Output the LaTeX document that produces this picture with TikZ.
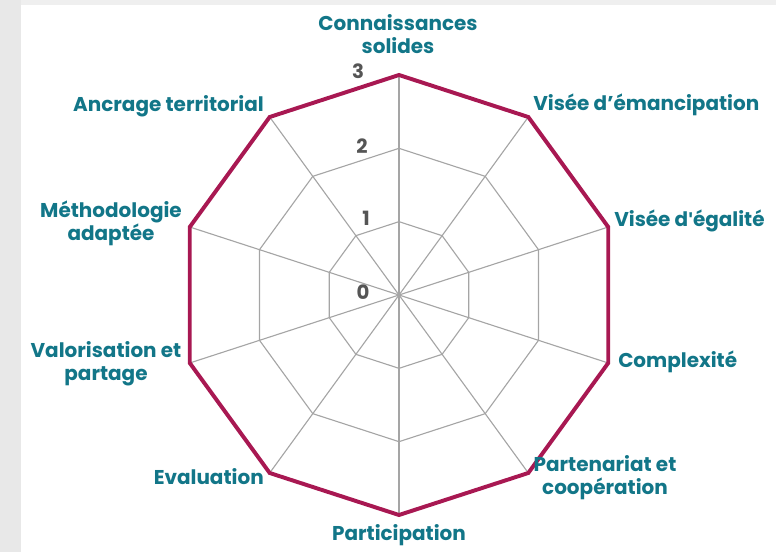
\documentclass[tikz,border=0pt]{standalone}
\usepackage{fontspec}
\setmainfont{Poppins}
\definecolor{labcol}{RGB}{18,118,136}
\definecolor{numcol}{RGB}{85,85,85}
\definecolor{polycol}{RGB}{168,24,82}
\definecolor{gridcol}{RGB}{165,165,165}
\definecolor{bordcol}{RGB}{232,232,232}
\begin{document}
\begin{tikzpicture}[x=0.025cm,y=0.025cm,
	lab/.style={font=\bfseries\fontsize{14.2}{16.5}\selectfont, text=labcol, align=center, inner sep=0pt},
	num/.style={font=\bfseries\fontsize{14}{16}\selectfont, text=numcol, inner sep=0pt},
	grille/.style={gridcol, line width=0.8pt},
	poly/.style={polycol, line width=2.8pt}]
	% Cadre
	\useasboundingbox (-399,-257) rectangle (377,295);
	\fill[bordcol] (-399,-257) rectangle (-378,295);
	\fill[bordcol!70] (-378,290) rectangle (377,295);
	
	% Grille du radar
	\foreach \r in {73.33,146.67}{\draw[grille] (90:\r) \foreach \a in {54,18,...,-234}{ -- (\a:\r)} -- cycle;}
	\foreach \a in {90,54,...,-234}{\draw[grille] (0,0) -- (\a:220);}
	
	% Polygone des valeurs
	\draw[poly] (90:220) \foreach \a in {54,18,...,-234}{ -- (\a:220)} -- cycle;
	
	% Graduations
	\node[num] (n0) at (-36,3) {0};
	\node[num] (n1) at (-33,77) {1};
	\node[num] (n2) at (-37,149) {2};
	\node[num] (n3) at (-41,224) {3};
	
	% Axes
	\node[lab] (conn) at (-1,261) {Connaissances\\solides};
	\node[lab, anchor=west] (eman) at (134,190) {Visée d’émancipation};
	\node[lab, anchor=west] (egal) at (215,74) {Visée d{\fontspec{Liberation Sans}[Mapping=]\bfseries\char"27}égalité};
	\node[lab, anchor=west] (comp) at (219,-67) {Complexité};
	\node[lab] (part) at (206,-183) {Partenariat et\\coopération};
	\node[lab] (parti) at (0,-240) {Participation};
	\node[lab, anchor=east] (eval) at (-135,-182) {Evaluation};
	\node[lab] (valo) at (-293,-69) {Valorisation et\\partage};
	\node[lab] (meth) at (-288,72) {Méthodologie\\adaptée};
	\node[lab, anchor=east] (ancr) at (-135,189) {Ancrage territorial};
\end{tikzpicture}
\end{document}
